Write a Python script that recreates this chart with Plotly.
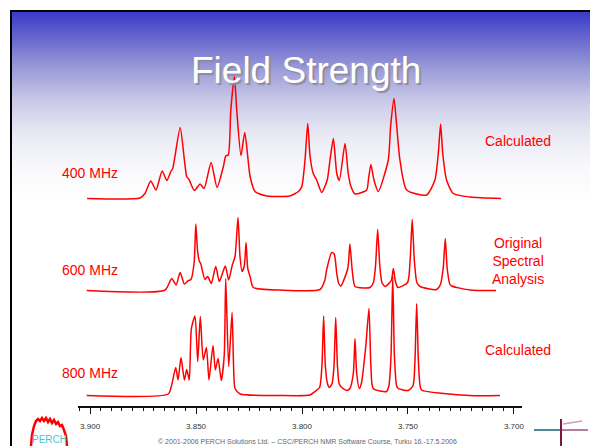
import plotly.graph_objects as go

# ---------------- data (ppm, intensity above baseline) ----------------
ppm_400 = [3.9014, 3.8764, 3.8741, 3.8714, 3.8689, 3.8660, 3.8638, 3.8619, 3.8610,
           3.8575, 3.8555, 3.8544, 3.8532, 3.8508, 3.8481, 3.8462, 3.8429, 3.8401,
           3.8371, 3.8360, 3.8348, 3.8336, 3.8319, 3.8308, 3.8288, 3.8270, 3.8245,
           3.8222, 3.8166, 3.8104, 3.8057, 3.8017, 3.8001, 3.7986, 3.7973, 3.7962,
           3.7947, 3.7931, 3.7907, 3.7881, 3.7868, 3.7852, 3.7836, 3.7824, 3.7797,
           3.7782, 3.7769, 3.7750, 3.7695, 3.7686, 3.7675, 3.7660, 3.7640, 3.7593,
           3.7582, 3.7566, 3.7553, 3.7538, 3.7506, 3.7412, 3.7373, 3.7357, 3.7346,
           3.7336, 3.7318, 3.7286, 3.7208, 3.7061]
int_400 = [0, 0.5, 5, 17.5, 8.5, 27.5, 18, 27, 30,
           71, 38.5, 22, 18.5, 8, 14.5, 10, 36, 11,
           32, 42.5, 43.5, 88.5, 122, 88.5, 43, 66, 22,
           7, 2.5, 2, 2.5, 7, 12, 38, 75, 42,
           25, 18.5, 6, 18.5, 38.5, 60, 25, 18, 55,
           25, 12, 4.5, 8.5, 20, 34, 18, 7, 38.5,
           72, 100, 72, 38.5, 8.5, 3.5, 18.5, 45, 74.5,
           45, 18.5, 5, 1.5, 0]

ppm_600 = [3.9016, 3.8646, 3.8615, 3.8594, 3.8575, 3.8555, 3.8536, 3.8524, 3.8509,
           3.8501, 3.8493, 3.8484, 3.8478, 3.8458, 3.8445, 3.8428, 3.8407, 3.8390,
           3.8362, 3.8346, 3.8329, 3.8316, 3.8302, 3.8293, 3.8283, 3.8272, 3.8264,
           3.8256, 3.8245, 3.8230, 3.8104, 3.7915, 3.7892, 3.7884, 3.7860, 3.7848,
           3.7836, 3.7827, 3.7817, 3.7784, 3.7774, 3.7763, 3.7750, 3.7711, 3.7679,
           3.7663, 3.7653, 3.7643, 3.7633, 3.7623, 3.7608, 3.7579, 3.7569, 3.7560,
           3.7548, 3.7502, 3.7490, 3.7480, 3.7470, 3.7458, 3.7443, 3.7365, 3.7347,
           3.7334, 3.7324, 3.7315, 3.7302, 3.7294, 3.7208, 3.7085]
int_600 = [0, 0.5, 12, 5.5, 18, 6.5, 10, 11, 28,
           66.5, 40, 29, 27, 11, 14, 7, 24, 9,
           24.5, 10.5, 25.5, 34, 73, 35, 19, 25, 48,
           22, 14, 3, 0.5, 1, 10.5, 20.5, 38, 36.5,
           17, 7, 4.5, 22, 46.5, 20, 4, 2.5, 3,
           8, 25, 61, 25, 8, 4, 10, 22, 10,
           3, 8, 30, 71, 30, 8, 4, 1, 6,
           22, 52, 22, 6, 4.5, 0.5, 0]

ppm_800 = [3.9016, 3.8631, 3.8615, 3.8596, 3.8585, 3.8571, 3.8555, 3.8544, 3.8532,
           3.8522, 3.8505, 3.8492, 3.8480, 3.8466, 3.8451, 3.8439, 3.8420, 3.8409,
           3.8396, 3.8381, 3.8367, 3.8360, 3.8346, 3.8330, 3.8323, 3.8316, 3.8292,
           3.8104, 3.7962, 3.7939, 3.7917, 3.7906, 3.7898, 3.7890, 3.7880, 3.7871,
           3.7858, 3.7849, 3.7841, 3.7833, 3.7825, 3.7817, 3.7789, 3.7774, 3.7758,
           3.7750, 3.7742, 3.7730, 3.7720, 3.7711, 3.7698, 3.7684, 3.7675, 3.7664,
           3.7601, 3.7590, 3.7580, 3.7572, 3.7564, 3.7554, 3.7546, 3.7499, 3.7476,
           3.7467, 3.7459, 3.7451, 3.7443, 3.7436, 3.7208, 3.7066]
int_800 = [0, 1.5, 10.5, 28, 15.5, 38, 15.5, 26, 15.5,
           67, 79.5, 34, 79, 35.5, 48, 15.5, 50, 25.5,
           37, 15, 40, 117, 29, 83, 30, 7, 1.5,
           0, 0.5, 4, 8, 30, 79.5, 30, 12, 8,
           12, 30, 78, 30, 12, 9, 5, 7, 22,
           57, 22, 7, 12, 25.5, 52, 87, 30, 7,
           4, 10, 40, 119.5, 40, 10, 7, 5, 10,
           35, 92, 35, 10, 5.5, 0, 0]

tick_vals = [3.900, 3.850, 3.800, 3.750, 3.700]
tick_text = ["3.900", "3.850", "3.800", "3.750", "3.700"]

field_labels = ["400 MHz", "600 MHz", "800 MHz"]
side_labels = ["Calculated", "Original<br>Spectral<br>Analysis", "Calculated"]
title_text = "Field Strength"
footer_text = "\u00a9 2001-2006 PERCH Solutions Ltd. \u2013 CSC/PERCH NMR Software Course, Turku 16.-17.5.2006"

# ---------------- layout geometry (pixels) ----------------
W, H = 590, 446
PL, PR, PT, PB = 78, 522, 12, 406


def px(x):
    return (x - PL) / (PR - PL)


def py(y):
    return (PB - y) / (PB - PT)


offsets = [PB - 198.5, PB - 290.5, PB - 395.5]
label_y = [173, 270, 373]
side_y = [141, 261, 350]

fig = go.Figure()
RED = "#ff0000"
for xs, ys, off in [(ppm_400, int_400, offsets[0]),
                    (ppm_600, int_600, offsets[1]),
                    (ppm_800, int_800, offsets[2])]:
    fig.add_trace(go.Scatter(
        x=xs, y=[v + off for v in ys], mode="lines",
        line=dict(color=RED, width=1.5, shape="spline", smoothing=0.6),
        hoverinfo="skip", showlegend=False))

shapes = []
# gradient background (blue -> white)
stops = [(12, (58, 58, 200)), (40, (106, 106, 208)), (67, (152, 152, 216)),
         (100, (200, 200, 232)), (133, (232, 232, 244)), (167, (248, 248, 252)),
         (200, (255, 255, 255))]


def grad_color(y):
    for (y0, c0), (y1, c1) in zip(stops[:-1], stops[1:]):
        if y0 <= y <= y1:
            t = (y - y0) / (y1 - y0)
            return "rgb(%d,%d,%d)" % tuple(round(a + (b - a) * t) for a, b in zip(c0, c1))
    return "rgb(255,255,255)"


y = 12
while y < 200:
    shapes.append(dict(type="rect", xref="paper", yref="paper", layer="below",
                       x0=px(12), x1=px(W + 2), y0=py(y + 2.2), y1=py(y),
                       fillcolor=grad_color(y + 1), line=dict(width=0)))
    y += 2
# black frame
shapes.append(dict(type="rect", xref="paper", yref="paper", layer="below",
                   x0=px(10), x1=px(W + 2), y0=py(12), y1=py(10),
                   fillcolor="black", line=dict(width=0)))
shapes.append(dict(type="rect", xref="paper", yref="paper", layer="below",
                   x0=px(10), x1=px(12), y0=py(H + 2), y1=py(10),
                   fillcolor="black", line=dict(width=0)))

# PERCH logo (approximate)
logo_pts = [(31, 446), (32, 435), (34, 426), (36, 421), (38, 419), (40, 421), (42, 418),
            (44, 421), (46, 418), (48, 422), (50, 419), (52, 423), (54, 420), (56, 424),
            (58, 422), (60, 426), (62, 425), (64, 430), (66, 436), (67, 446)]
path = "M " + " L ".join("%f,%f" % (px(a), py(b)) for a, b in logo_pts)
shapes.append(dict(type="path", xref="paper", yref="paper", path=path,
                   line=dict(color=RED, width=2.5)))
# right corner logo (approximate)
shapes.append(dict(type="line", xref="paper", yref="paper",
                   x0=px(534), x1=px(562), y0=py(430), y1=py(430),
                   line=dict(color="#4a8a98", width=2)))
shapes.append(dict(type="line", xref="paper", yref="paper",
                   x0=px(562), x1=px(588), y0=py(430), y1=py(430),
                   line=dict(color="#b080a0", width=2)))
shapes.append(dict(type="line", xref="paper", yref="paper",
                   x0=px(561), x1=px(561), y0=py(419), y1=py(446),
                   line=dict(color="#7a1840", width=2)))
shapes.append(dict(type="line", xref="paper", yref="paper",
                   x0=px(563), x1=px(582), y0=py(424), y1=py(421),
                   line=dict(color="#c8a0b8", width=1.5)))

annotations = []
FONT = "Liberation Sans, Arial, sans-serif"


def ann(text, x, y, size, color, xanchor="center", align="center", shadow=None):
    font = dict(family=FONT, size=size, color=color)
    if shadow:
        font["shadow"] = shadow
    annotations.append(dict(text=text, xref="paper", yref="paper", x=px(x), y=py(y),
                            xanchor=xanchor, yanchor="middle", align=align,
                            showarrow=False, font=font))


# title with drop shadow
ann(title_text, 305.5, 70, 37, "white", shadow="2px 2px 1px #8c8c9c")
for lab, yy in zip(field_labels, label_y):
    ann(lab, 60, yy, 14, RED, xanchor="left", align="left")
for lab, yy in zip(side_labels, side_y):
    ann(lab, 518, yy, 14, RED)
ann("PERCH", 49, 439, 10, "#40c8d0")
ann(footer_text, 307, 441, 7, "#666666")

fig.update_layout(
    width=W, height=H,
    margin=dict(l=PL, r=W - PR, t=PT, b=H - PB, pad=0),
    paper_bgcolor="white", plot_bgcolor="rgba(0,0,0,0)",
    shapes=shapes, annotations=annotations,
    xaxis=dict(range=[3.9057, 3.6962], showline=True, linecolor="#111111", linewidth=1.5,
               ticks="outside", ticklen=6, tickwidth=1, tickcolor="#111111",
               tickvals=tick_vals, ticktext=tick_text, ticklabelstandoff=6,
               tickfont=dict(family=FONT, size=8, color="#333333"),
               minor=dict(dtick=0.005, tick0=3.7, ticks="outside", ticklen=3,
                          tickcolor="#111111", tickwidth=1, showgrid=False),
               showgrid=False, zeroline=False, fixedrange=True),
    yaxis=dict(range=[0, PB - PT], visible=False, fixedrange=True),
    showlegend=False,
)

fig.write_html("out.html", config={"displayModeBar": False},
               post_script="document.body.style.margin='0px';document.body.style.overflow='hidden';")
